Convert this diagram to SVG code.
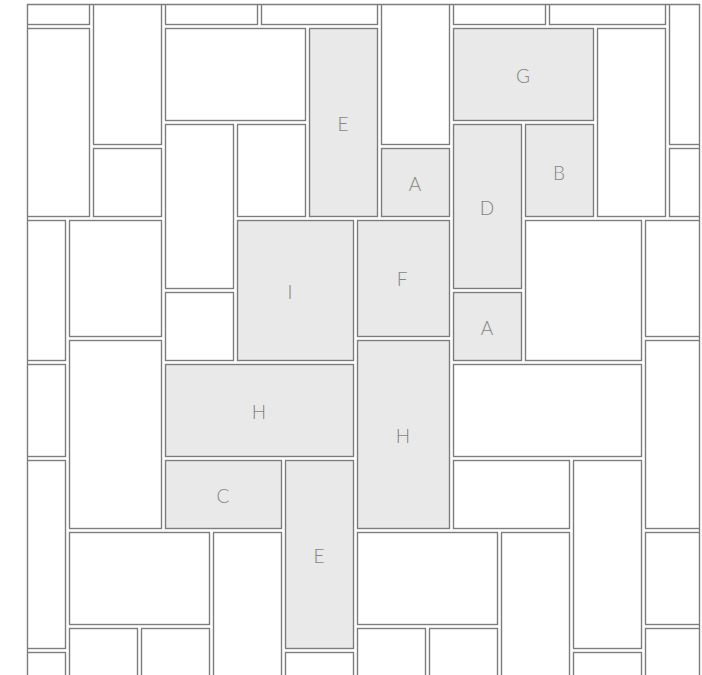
<svg xmlns="http://www.w3.org/2000/svg" width="702" height="675" viewBox="0 0 702 675">
<style>
.t{fill:#ffffff;stroke:#7d7d7d;stroke-width:1.4}
.s{fill:#e8e9e8;stroke:#7d7d7d;stroke-width:1.4}
.l{font-family:Lato,"Noto Sans","Liberation Sans",sans-serif;font-weight:300;font-size:19px;fill:#858585;text-anchor:middle;dominant-baseline:central}
.f{fill:none;stroke:#7d7d7d;stroke-width:1.4}
</style>
<defs><clipPath id="clip"><rect x="27.5" y="4.5" width="672" height="680"/></clipPath></defs>
<rect width="702" height="675" fill="#ffffff"/>
<g clip-path="url(#clip)">
<g id="t1"><rect class="t" x="21.5" y="-19.5" width="68" height="44"/></g>
<g id="t2"><rect class="t" x="93.5" y="-43.5" width="68" height="188"/></g>
<g id="t3"><rect class="t" x="165.5" y="-19.5" width="92" height="44"/></g>
<g id="t4"><rect class="t" x="261.5" y="-19.5" width="116" height="44"/></g>
<g id="t5"><rect class="t" x="381.5" y="-43.5" width="68" height="188"/></g>
<g id="t6"><rect class="t" x="453.5" y="-19.5" width="92" height="44"/></g>
<g id="t7"><rect class="t" x="549.5" y="-19.5" width="116" height="44"/></g>
<g id="t8"><rect class="t" x="669.5" y="-43.5" width="68" height="188"/></g>
<g id="t9"><rect class="t" x="21.5" y="28.5" width="68" height="188"/></g>
<g id="t10"><rect class="t" x="93.5" y="148.5" width="68" height="68"/></g>
<g id="t11"><rect class="t" x="165.5" y="28.5" width="140" height="92"/></g>
<g id="tileE1"><rect class="s" x="309.5" y="28.5" width="68" height="188"/><text class="l" x="343" y="123">E</text></g>
<g id="tileG"><rect class="s" x="453.5" y="28.5" width="140" height="92"/><text class="l" x="523" y="75">G</text></g>
<g id="t14"><rect class="t" x="597.5" y="28.5" width="68" height="188"/></g>
<g id="t15"><rect class="t" x="669.5" y="148.5" width="68" height="68"/></g>
<g id="t16"><rect class="t" x="165.5" y="124.5" width="68" height="164"/></g>
<g id="t17"><rect class="t" x="237.5" y="124.5" width="68" height="92"/></g>
<g id="tileA1"><rect class="s" x="381.5" y="148.5" width="68" height="68"/><text class="l" x="415" y="183">A</text></g>
<g id="tileD"><rect class="s" x="453.5" y="124.5" width="68" height="164"/><text class="l" x="487" y="207">D</text></g>
<g id="tileB"><rect class="s" x="525.5" y="124.5" width="68" height="92"/><text class="l" x="559" y="172">B</text></g>
<g id="t21"><rect class="t" x="-2.5" y="220.5" width="68" height="140"/></g>
<g id="t22"><rect class="t" x="69.5" y="220.5" width="92" height="116"/></g>
<g id="t23"><rect class="t" x="165.5" y="292.5" width="68" height="68"/></g>
<g id="tileI"><rect class="s" x="237.5" y="220.5" width="116" height="140"/><text class="l" x="290" y="291">I</text></g>
<g id="tileF"><rect class="s" x="357.5" y="220.5" width="92" height="116"/><text class="l" x="402" y="278">F</text></g>
<g id="tileA2"><rect class="s" x="453.5" y="292.5" width="68" height="68"/><text class="l" x="487" y="327">A</text></g>
<g id="t27"><rect class="t" x="525.5" y="220.5" width="116" height="140"/></g>
<g id="t28"><rect class="t" x="645.5" y="220.5" width="92" height="116"/></g>
<g id="t29"><rect class="t" x="-2.5" y="364.5" width="68" height="92"/></g>
<g id="t30"><rect class="t" x="69.5" y="340.5" width="92" height="188"/></g>
<g id="tileH1"><rect class="s" x="165.5" y="364.5" width="188" height="92"/><text class="l" x="259" y="411">H</text></g>
<g id="tileH2"><rect class="s" x="357.5" y="340.5" width="92" height="188"/><text class="l" x="403" y="435">H</text></g>
<g id="t33"><rect class="t" x="453.5" y="364.5" width="188" height="92"/></g>
<g id="t34"><rect class="t" x="645.5" y="340.5" width="92" height="188"/></g>
<g id="t35"><rect class="t" x="-2.5" y="460.5" width="68" height="188"/></g>
<g id="tileC"><rect class="s" x="165.5" y="460.5" width="116" height="68"/><text class="l" x="223" y="495">C</text></g>
<g id="tileE2"><rect class="s" x="285.5" y="460.5" width="68" height="188"/><text class="l" x="319" y="555">E</text></g>
<g id="t38"><rect class="t" x="453.5" y="460.5" width="116" height="68"/></g>
<g id="t39"><rect class="t" x="573.5" y="460.5" width="68" height="188"/></g>
<g id="t40"><rect class="t" x="645.5" y="532.5" width="92" height="92"/></g>
<g id="t41"><rect class="t" x="69.5" y="532.5" width="140" height="92"/></g>
<g id="t42"><rect class="t" x="213.5" y="532.5" width="68" height="188"/></g>
<g id="t43"><rect class="t" x="357.5" y="532.5" width="140" height="92"/></g>
<g id="t44"><rect class="t" x="501.5" y="532.5" width="68" height="188"/></g>
<g id="t45"><rect class="t" x="69.5" y="628.5" width="68" height="92"/></g>
<g id="t46"><rect class="t" x="141.5" y="628.5" width="68" height="92"/></g>
<g id="t47"><rect class="t" x="357.5" y="628.5" width="68" height="92"/></g>
<g id="t48"><rect class="t" x="429.5" y="628.5" width="68" height="92"/></g>
<g id="t49"><rect class="t" x="645.5" y="628.5" width="92" height="92"/></g>
<g id="t50"><rect class="t" x="-2.5" y="652.5" width="68" height="92"/></g>
<g id="t51"><rect class="t" x="285.5" y="652.5" width="68" height="92"/></g>
<g id="t52"><rect class="t" x="573.5" y="652.5" width="68" height="92"/></g>
</g>
<g id="frame"><path class="f" d="M27.5,680 V4.5 H699.5 V680"/></g>
</svg>
